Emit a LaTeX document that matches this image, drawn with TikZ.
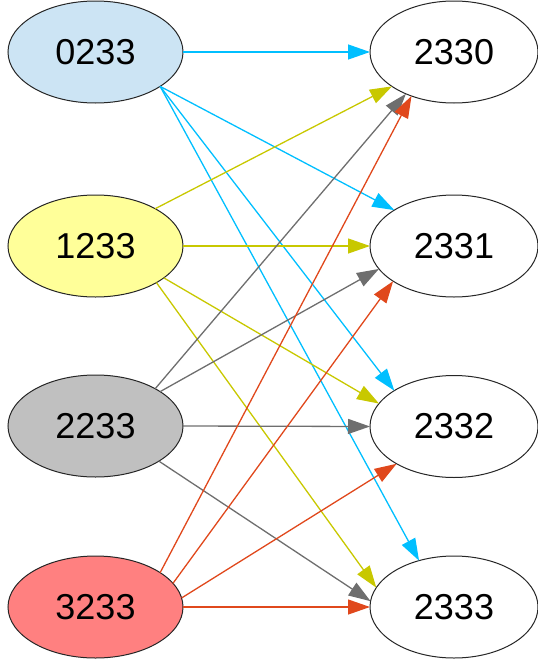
\documentclass[tikz,border=0pt]{standalone}
\usepackage{fontspec}
\setmainfont{Liberation Sans}
\usetikzlibrary{shapes.geometric,arrows.meta}
\definecolor{cblue}{HTML}{00BFFF}
\definecolor{cyel}{HTML}{C8C800}
\definecolor{cgrey}{HTML}{6E6E6E}
\definecolor{cred}{HTML}{E0481C}
\definecolor{fblue}{HTML}{CCE4F4}
\definecolor{fyel}{HTML}{FFFF99}
\definecolor{fgrey}{HTML}{C0C0C0}
\definecolor{fred}{HTML}{FF8080}
\begin{document}
\begin{tikzpicture}[x=1pt,y=-1pt,
  lnode/.style={ellipse,draw=black!85,line width=1pt,minimum width=175pt,minimum height=102pt,inner sep=0pt,outer sep=0pt,font=\fontsize{36}{40}\selectfont},
  rnode/.style={lnode,minimum width=168pt,fill=white},
  edgeline/.style={line width=1.3pt,-{Triangle[length=22pt,width=15pt]}},
]
\useasboundingbox (0,0) rectangle (538,664);
\node[lnode,fill=fblue] (n0233) at (95.5,52) {0233};
\node[lnode,fill=fyel]  (n1233) at (95.5,246) {1233};
\node[lnode,fill=fgrey] (n2233) at (95.5,426) {2233};
\node[lnode,fill=fred]  (n3233) at (95.5,607) {3233};
\node[rnode] (n2330) at (454,52) {2330};
\node[rnode] (n2331) at (454,246) {2331};
\node[rnode] (n2332) at (454,426.5) {2332};
\node[rnode] (n2333) at (454,607) {2333};
% blue
\draw[edgeline,cblue] (n0233.0) -- (n2330.180);
\draw[edgeline,cblue] (n0233.-28) -- (n2331.149);
\draw[edgeline,cblue] (n0233.-28) -- (n2332.149);
\draw[edgeline,cblue] (n0233.-28) -- (n2333.127);
% yellow
\draw[edgeline,cyel] (n1233.32) -- (n2330.-151);
\draw[edgeline,cyel] (n1233.0) -- (n2331.180);
\draw[edgeline,cyel] (n1233.-25) -- (n2332.163);
\draw[edgeline,cyel] (n1233.-31) -- (n2333.166);
% grey
\draw[edgeline,cgrey] (n2233.32) -- (n2330.-139);
\draw[edgeline,cgrey] (n2233.28) -- (n2331.-163);
\draw[edgeline,cgrey] (n2233.0) -- (n2332.180);
\draw[edgeline,cgrey] (n2233.-29) -- (n2333.176);
% red
\draw[edgeline,cred] (n3233.28) -- (n2330.-134);
\draw[edgeline,cred] (n3233.17) -- (n2331.-150);
\draw[edgeline,cred] (n3233.6) -- (n2332.-147);
\draw[edgeline,cred] (n3233.0) -- (n2333.180);
\end{tikzpicture}
\end{document}
